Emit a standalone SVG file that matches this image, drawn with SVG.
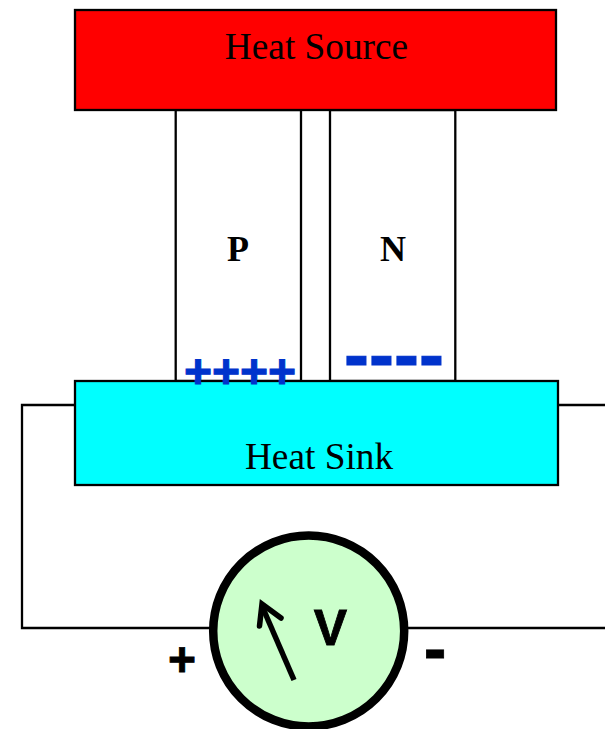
<svg xmlns="http://www.w3.org/2000/svg" width="605" height="729" viewBox="0 0 605 729">
<style>
.box{stroke:#000;stroke-width:2.300}
.leg{fill:#fff;stroke:#000;stroke-width:2.300}
.wire{fill:none;stroke:#000;stroke-width:2.300}
.t{font-family:"Liberation Serif",serif;fill:#000;font-size:37.300px;text-anchor:middle}
.b{font-family:"Liberation Sans",Arial,sans-serif;font-weight:700}
.tb{font-family:"Liberation Serif",serif;font-weight:700;font-size:36px;text-anchor:middle;fill:#000}
.carrier{fill:#0033cc;stroke:#0033cc;stroke-width:1}
.pol{fill:#000;stroke:#000;stroke-width:.8;text-anchor:middle}
</style>
<g id="connectors">
<path class="wire" d="M75 405H22V628H210"/>
<path class="wire" d="M557 405H605"/>
<path class="wire" d="M408 628H605"/>
</g>
<g id="p-leg"><rect class="leg" x="175.700" y="110" width="125.300" height="271"/><text class="tb" x="238" y="261">P</text></g>
<g id="n-leg"><rect class="leg" x="330" y="110" width="125.300" height="271"/><text class="tb" x="393" y="261">N</text></g>
<g id="heat-source"><rect class="box" x="75" y="10" width="481" height="100" fill="#f00"/><text class="t" x="316.500" y="59">Heat Source</text></g>
<g id="heat-sink"><rect class="box" x="75" y="381" width="483" height="104" fill="#0ff"/><text class="t" x="319" y="469">Heat Sink</text></g>
<g id="p-carriers"><text class="b carrier" x="184" y="388" font-size="48">++++</text></g>
<g id="n-carriers"><text class="b carrier" x="344" y="380" font-size="75">----</text></g>
<g id="voltmeter">
<circle cx="308.700" cy="631" r="95.500" fill="#ccffcc" stroke="#000" stroke-width="8.500"/>
<path d="M294 680L262 606" fill="none" stroke="#000" stroke-width="5.500"/>
<path d="M259.500 626L262 604L281 618" fill="none" stroke="#000" stroke-width="5.500" stroke-linecap="round"/>
<text class="b pol" x="330.500" y="645" font-size="50">V</text>
</g>
<g id="polarity">
<text class="b pol" x="182" y="676" font-size="48">+</text>
<text class="b pol" x="435" y="672" font-size="68">-</text>
</g>
</svg>
